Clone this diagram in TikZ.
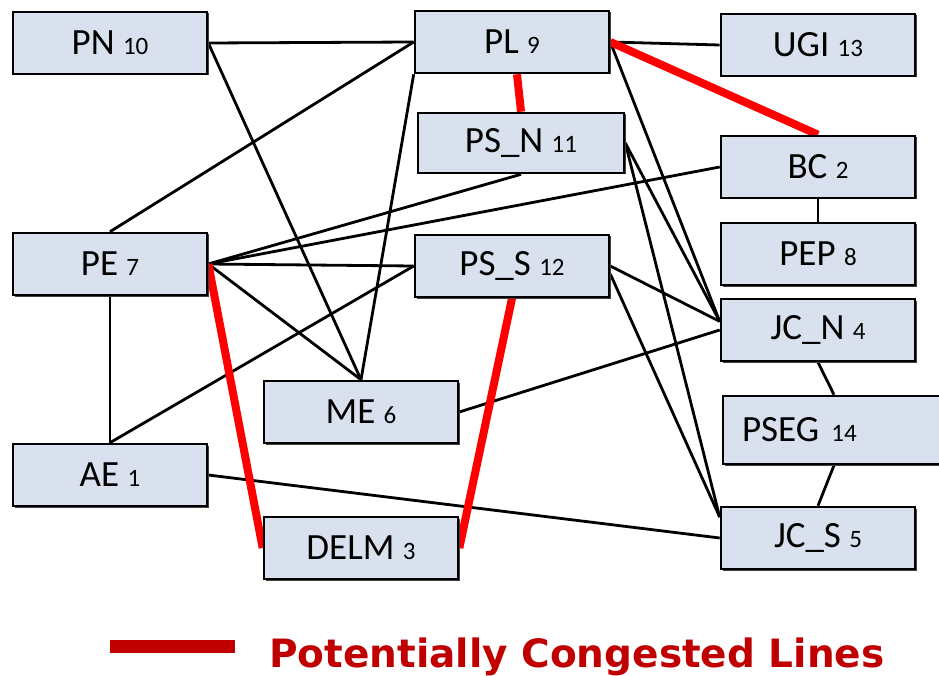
\documentclass[tikz,border=0pt]{standalone}
\usepackage{fontspec}
\usepackage{xcolor}
\setmainfont{Carlito}
\newfontfamily\legendfont{DejaVu Sans}
\usetikzlibrary{shadows,backgrounds}
\definecolor{boxblue}{HTML}{D9E1EE}
\definecolor{legendred}{HTML}{C00000}
\newcommand{\idx}[1]{{\fontsize{25}{25}\selectfont #1}}

\begin{document}
\begin{tikzpicture}[x=1pt, y=-1pt,
    station/.style = {draw, line width=2.6pt, fill=boxblue, minimum width=194pt,
        minimum height=62pt, inner sep=0pt, font=\fontsize{37}{40}\selectfont,
        drop shadow={shadow xshift=1.5pt, shadow yshift=-1.5pt, fill=black!75, opacity=1}},
    line/.style = {line width=2.8pt},
    congested/.style = {line width=8pt, red}]
    \useasboundingbox (0,0) rectangle (939,676);
    \node[station] (pn) at (110,43) {PN \idx{10}};
    \node[station] (pl) at (512,42) {PL \idx{9}};
    \node[station] (ugi) at (818,45) {UGI \idx{13}};
    \node[station, minimum width=206pt, minimum height=60pt] (psn) at (521,143) {PS\_N \idx{11}};
    \node[station] (bc) at (818,167) {BC \idx{2}};
    \node[station] (pep) at (818,254) {PEP \idx{8}};
    \node[station] (pe) at (110,264) {PE \idx{7}};
    \node[station] (pss) at (512,266) {PS\_S \idx{12}};
    \node[station] (jcn) at (818,330) {JC\_N \idx{4}};
    \node[station] (me) at (361,412) {ME \idx{6}};
    \node[station, minimum width=222pt, minimum height=68pt, text width=184pt,
        align=left, inner xsep=19pt] (pseg) at (834,430) {PSEG \idx{14}};
    \node[station] (ae) at (110,475) {AE \idx{1}};
    \node[station] (jcs) at (818,538) {JC\_S \idx{5}};
    \node[station] (delm) at (361,548) {DELM \idx{3}};

    \begin{scope}[on background layer]
    % ordinary lines
    \draw[line] (pn.east) -- (pl.west);
    \draw[line] (pn.east) -- (me.north);
    \draw[line] (pl.west) -- (pe.north);
    \draw[line] (pl.south west) -- (me.north);
    \draw[line] (pl.east) -- (ugi.west);
    \draw[line] (pl.east) -- (jcn.175);
    \draw[line] (pe.east) -- (psn.south);
    \draw[line] (pe.east) -- (bc.west);
    \draw[line] (pe.east) -- (pss.west);
    \draw[line] (pe.east) -- (me.north);
    \draw[line] (pe.south) -- (ae.north);
    \draw[line] (pss.west) -- (ae.north);
    \draw[line] (ae.east) -- (jcs.west);
    \draw[line] (me.east) -- (jcn.west);
    \draw[line] (psn.east) -- (jcn.175);
    \draw[line] (psn.east) -- (jcs.168);
    \draw[line] (pss.east) -- (jcn.175);
    \draw[line] ([yshift=-8pt]pss.east) -- (jcs.168);
    \draw[line] (bc.south) -- (pep.north);
    \draw[line] (jcn.south) -- (pseg.north);
    \draw[line] (pseg.south) -- (jcs.north);
    % congested lines
    \draw[congested] (pl.east) -- (bc.north);
    \draw[congested] ([xshift=5pt]pl.south) -- (psn.north);
    \draw[congested] (pe.east) -- (delm.west);
    \draw[congested] (pss.south) -- (delm.east);
    \end{scope}

    % legend
    \coordinate (bar1) at (110,646);
    \coordinate (bar2) at (235,646);
    \draw[line width=13pt, legendred] (bar1) -- (bar2);
    \node[anchor=base west, inner sep=0pt, text=legendred,
        font=\legendfont\bfseries\fontsize{39}{42}\selectfont] (legend) at (269,667)
        {Potentially Congested Lines};
\end{tikzpicture}
\end{document}
